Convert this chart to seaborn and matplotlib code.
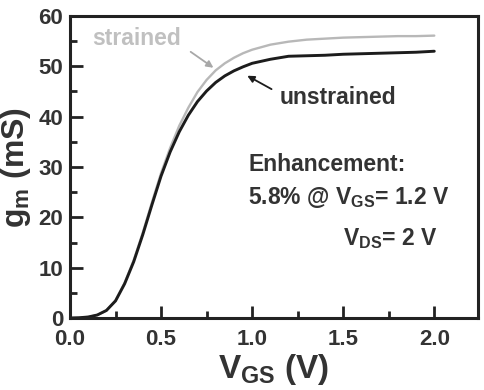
import numpy as np
import pandas as pd
import matplotlib
matplotlib.use('Agg')
import matplotlib.pyplot as plt
from matplotlib.ticker import MultipleLocator, FormatStrFormatter
import seaborn as sns

vgs = [0.0, 0.05, 0.1, 0.15, 0.2, 0.25, 0.3, 0.35, 0.4, 0.45, 0.5, 0.55, 0.6,
       0.65, 0.7, 0.75, 0.8, 0.85, 0.9, 0.95, 1.0, 1.1, 1.2, 1.3, 1.4, 1.5,
       1.6, 1.7, 1.8, 1.9, 2.0]
gm_strained = [0.0, 0.05, 0.2, 0.6, 1.5, 3.5, 7.0, 11.5, 17.0, 23.0, 28.8, 33.8,
               38.2, 41.8, 44.9, 47.3, 49.2, 50.6, 51.7, 52.6, 53.3, 54.3, 54.9,
               55.3, 55.5, 55.7, 55.8, 55.9, 56.0, 56.0, 56.1]
gm_unstrained = [0.0, 0.05, 0.2, 0.6, 1.5, 3.4, 6.8, 11.2, 16.6, 22.5, 28.2, 33.0,
                 37.0, 40.3, 43.0, 45.1, 46.8, 48.1, 49.1, 49.9, 50.6, 51.4, 52.0,
                 52.1, 52.2, 52.4, 52.5, 52.6, 52.7, 52.8, 53.0]

df = pd.DataFrame({
    'vgs': vgs * 2,
    'gm': gm_strained + gm_unstrained,
    'sample': ['strained'] * len(vgs) + ['unstrained'] * len(vgs),
})

sns.set_theme(style='ticks')
plt.rcParams['font.family'] = ['Liberation Sans', 'DejaVu Sans']
plt.rcParams['font.weight'] = 'bold'
plt.rcParams['mathtext.fontset'] = 'custom'
plt.rcParams['mathtext.rm'] = 'Liberation Sans'
plt.rcParams['mathtext.it'] = 'Liberation Sans'
plt.rcParams['mathtext.bf'] = 'Liberation Sans:bold'

TXT = '#333333'
FS = 16.5

fig = plt.figure(figsize=(4.84, 3.9), dpi=100)
ax = fig.add_axes([0.1446, 0.1846, 0.843, 0.7744])

sns.lineplot(data=df, x='vgs', y='gm', hue='sample',
             palette={'strained': '#b8b8b8', 'unstrained': '#1c1c1c'},
             linewidth=2.0, legend=False, ax=ax)
ax.lines[0].set_linewidth(1.7)
ax.lines[1].set_linewidth(2.1)

ax.set_xlim(0, 2.24)
ax.set_ylim(0, 60)
ax.xaxis.set_major_locator(MultipleLocator(0.5))
ax.xaxis.set_minor_locator(MultipleLocator(0.25))
ax.yaxis.set_major_locator(MultipleLocator(10))
ax.yaxis.set_minor_locator(MultipleLocator(5))
ax.xaxis.set_major_formatter(FormatStrFormatter('%.1f'))
ax.tick_params(which='both', direction='in', width=2, color='#222222',
               top=False, right=False, labelsize=16, labelcolor=TXT)
ax.tick_params(axis='x', which='major', pad=8)
ax.tick_params(axis='y', which='major', pad=5)
ax.tick_params(which='major', length=9)
ax.tick_params(which='minor', length=5)
for s in ax.spines.values():
    s.set_linewidth(2.2)
    s.set_color('#222222')

ax.set_xlabel('V$_{GS}$ (V)', fontsize=24, fontweight='bold', color=TXT, labelpad=1)
ax.set_ylabel('g$_{m}$ (mS)', fontsize=23, fontweight='bold', color=TXT, labelpad=4)

# 注释
ax.text(0.12, 55.5, 'strained', fontsize=FS, fontweight='bold', color='#c0c0c0',
        va='center', ha='left')
ax.annotate('', xy=(0.80, 49.4), xytext=(0.65, 53.2),
            arrowprops=dict(arrowstyle='-|>', color='#a8a8a8', lw=1.3,
                            mutation_scale=10))
ax.text(1.15, 43.9, 'unstrained', fontsize=FS, fontweight='bold', color=TXT,
        va='center', ha='left')
ax.annotate('', xy=(0.96, 48.4), xytext=(1.12, 45.2),
            arrowprops=dict(arrowstyle='-|>', color='#1c1c1c', lw=1.3,
                            mutation_scale=10))
ax.text(0.98, 30.4, 'Enhancement:', fontsize=FS, fontweight='bold', color=TXT,
        va='center', ha='left')
ax.text(0.98, 24.0, '5.8% @ V$_{GS}$= 1.2 V', fontsize=FS, fontweight='bold',
        color=TXT, va='center', ha='left')
ax.text(1.50, 15.8, 'V$_{DS}$= 2 V', fontsize=FS, fontweight='bold', color=TXT,
        va='center', ha='left')

fig.savefig('out.png', dpi=100)
